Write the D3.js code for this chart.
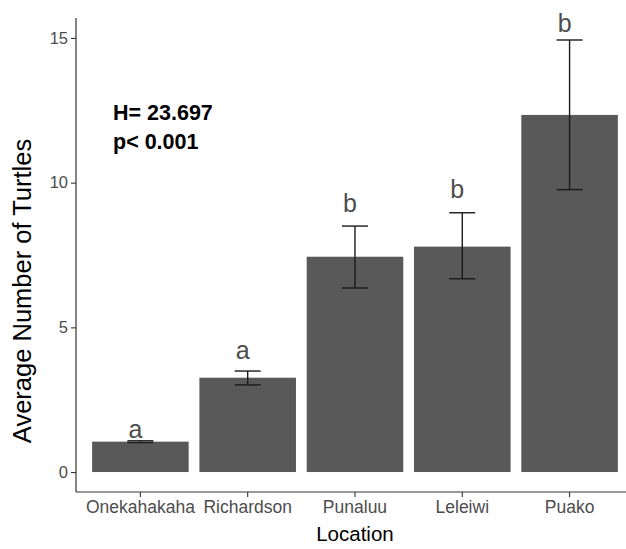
<!DOCTYPE html>
<html>
<head>
<meta charset="utf-8">
<script src="https://cdn.jsdelivr.net/npm/d3@7"></script>
<style>
  body { margin: 0; background: #fff; }
  svg { display: block; font-family: "Liberation Sans", Arial, sans-serif; }
</style>
</head>
<body>
<svg id="chart" width="626" height="549"></svg>
<script>
// data
const locations = ["Onekahakaha", "Richardson", "Punaluu", "Leleiwi", "Puako"];
const means = [1.05, 3.26, 7.44, 7.79, 12.34];
const errLow = [1.02, 3.01, 6.36, 6.68, 9.76];
const errHigh = [1.08, 3.49, 8.50, 8.96, 14.93];
const groupLetters = ["a", "a", "b", "b", "b"];
const letterY = [1.19, 3.91, 9.0, 9.47, 15.22];
const yTicks = [0, 5, 10, 15];
const statLines = ["H= 23.697", "p< 0.001"];

const data = locations.map((loc, i) => ({
    loc: loc,
    mean: means[i],
    lo: errLow[i],
    hi: errHigh[i],
    letter: groupLetters[i],
    ly: letterY[i]
}));

const svg = d3.select("#chart");

const panel = { left: 76, top: 18, bottom: 492 };

const xScale = d3.scaleBand()
    .domain(locations)
    .range([panel.left, panel.left + 5.2 * 107.3])
    .paddingInner(0.1)
    .paddingOuter(0.15);

const yScale = d3.scaleLinear()
    .domain([-0.69, 15.69])
    .range([panel.bottom, panel.top]);

const barColor = "#595959";
const capHalf = 13;

// bars
svg.append("g")
    .selectAll("rect")
    .data(data)
    .join("rect")
        .attr("x", d => xScale(d.loc))
        .attr("y", d => yScale(d.mean))
        .attr("width", xScale.bandwidth())
        .attr("height", d => yScale(0) - yScale(d.mean))
        .attr("fill", barColor);

// error bars
const errG = svg.append("g")
    .attr("stroke", "#1a1a1a")
    .attr("stroke-width", 1.4)
    .attr("fill", "none");

const cx = d => xScale(d.loc) + xScale.bandwidth() / 2;

errG.selectAll(".stem")
    .data(data)
    .join("line")
        .attr("class", "stem")
        .attr("x1", cx)
        .attr("x2", cx)
        .attr("y1", d => yScale(d.lo))
        .attr("y2", d => yScale(d.hi));

errG.selectAll(".capTop")
    .data(data)
    .join("line")
        .attr("class", "capTop")
        .attr("x1", d => cx(d) - capHalf)
        .attr("x2", d => cx(d) + capHalf)
        .attr("y1", d => yScale(d.hi))
        .attr("y2", d => yScale(d.hi));

errG.selectAll(".capBot")
    .data(data)
    .join("line")
        .attr("class", "capBot")
        .attr("x1", d => cx(d) - capHalf)
        .attr("x2", d => cx(d) + capHalf)
        .attr("y1", d => yScale(d.lo))
        .attr("y2", d => yScale(d.lo));

// group letters
svg.append("g")
    .selectAll("text")
    .data(data)
    .join("text")
        .attr("x", d => cx(d) - 5)
        .attr("y", d => yScale(d.ly))
        .attr("text-anchor", "middle")
        .attr("font-size", 25)
        .attr("fill", "#4d4d4d")
        .text(d => d.letter);

// axes
const yAxis = d3.axisLeft(yScale)
    .tickValues(yTicks)
    .tickSize(5)
    .tickPadding(3);

const xAxis = d3.axisBottom(xScale)
    .tickSize(5)
    .tickPadding(4);

const yG = svg.append("g")
    .attr("transform", `translate(${panel.left},0)`)
    .call(yAxis);

const xG = svg.append("g")
    .attr("transform", `translate(0,${panel.bottom})`)
    .call(xAxis);

[yG, xG].forEach(g => {
    g.select(".domain").remove();
    g.selectAll(".tick line").attr("stroke", "#333333").attr("stroke-width", 1.1);
    g.selectAll(".tick text").attr("fill", "#4d4d4d").attr("font-family", null);
});
yG.selectAll(".tick text").attr("font-size", 16.5);
xG.selectAll(".tick text").attr("font-size", 17.5);

// axis lines
svg.append("line")
    .attr("x1", panel.left).attr("x2", panel.left)
    .attr("y1", panel.top).attr("y2", panel.bottom)
    .attr("stroke", "#333333").attr("stroke-width", 1.2);

svg.append("line")
    .attr("x1", panel.left).attr("x2", 626)
    .attr("y1", panel.bottom).attr("y2", panel.bottom)
    .attr("stroke", "#333333").attr("stroke-width", 1.2);

// axis titles
svg.append("text")
    .attr("transform", `translate(31,291) rotate(-90)`)
    .attr("text-anchor", "middle")
    .attr("font-size", 25.5)
    .attr("fill", "#000")
    .text("Average Number of Turtles");

svg.append("text")
    .attr("x", (panel.left + xScale.range()[1]) / 2)
    .attr("y", 541)
    .attr("text-anchor", "middle")
    .attr("font-size", 20.5)
    .attr("fill", "#000")
    .text("Location");

// test statistic
svg.append("g")
    .selectAll("text")
    .data(statLines)
    .join("text")
        .attr("x", 113)
        .attr("y", (d, i) => 120 + i * 29)
        .attr("font-size", 21.5)
        .attr("font-weight", "bold")
        .attr("fill", "#000")
        .text(d => d);
</script>
</body>
</html>
